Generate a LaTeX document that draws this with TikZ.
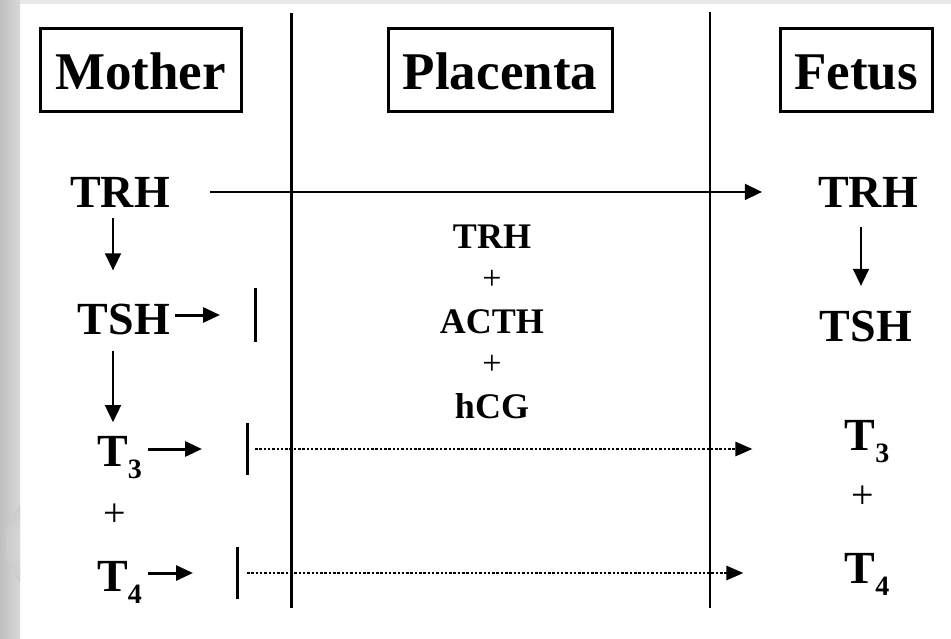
\documentclass[tikz,border=0pt]{standalone}
\usepackage{fontspec}
\setmainfont{Liberation Serif}
\usetikzlibrary{arrows.meta}

\begin{document}
\begin{tikzpicture}[x=1pt,y=-1pt,
	head/.style={draw,line width=3pt,inner sep=0pt,minimum height=83pt,text height=40pt,text depth=0pt,font=\fontsize{53}{53}\selectfont\bfseries},
	hormone/.style={inner sep=0pt,anchor=base,font=\fontsize{46}{46}\selectfont\bfseries},
	small/.style={inner sep=0pt,anchor=base,font=\fontsize{36}{36}\selectfont\bfseries},
	plus/.style={inner sep=0pt,font=\fontsize{40}{40}\selectfont},
	conn/.style={line width=1.6pt,-{Triangle[length=17pt,width=16pt]}},
	push/.style={line width=3pt,-{Triangle[length=17pt,width=15pt]}},
	leak/.style={line width=2.6pt,dash pattern=on 2.5pt off 1.8pt,-{Triangle[length=17pt,width=14pt]}},
	block/.style={line width=3pt},
	divider/.style={line width=3pt}]
	\useasboundingbox (0,0) rectangle (951,638);
	\fill[white] (0,0) rectangle (951,638);
	\shade[left color=gray!50,right color=gray!30] (0,0) rectangle (20,638);
	\fill[gray!18] (20,0) rectangle (951,4);
	\begin{scope}
		\clip (0,0) rectangle (20,638);
		\shade[inner color=white,outer color=gray!40] (67,544) circle (61);
	\end{scope}
	\draw[divider] (291,13) -- (291,608);
	\draw[divider,line width=2.5pt] (710,12) -- (710,608);
	\node[head,minimum width=201pt] (mother) at (140.5,69.5) {Mother};
	\node[head,minimum width=224pt] (placenta) at (500,69.5) {Placenta};
	\node[head,minimum width=152pt] (fetus) at (856,69.5) {Fetus};
	\node[hormone] (mTRH) at (120,207) {TRH};
	\node[hormone] (mTSH) at (124,334) {TSH};
	\node[hormone] (mT3) at (119.5,466) {T\raisebox{-12pt}{\fontsize{28}{28}\selectfont 3}};
	\node[plus] (mPlus) at (115,515) {+};
	\node[hormone] (mT4) at (119.5,591) {T\raisebox{-12pt}{\fontsize{28}{28}\selectfont 4}};
	\node[small] (pTRH) at (492,248) {TRH};
	\node[plus,font=\fontsize{34}{34}\selectfont] (pPlus1) at (492,280) {+};
	\node[small] (pACTH) at (492,333) {ACTH};
	\node[plus,font=\fontsize{34}{34}\selectfont] (pPlus2) at (492,365) {+};
	\node[small] (phCG) at (492,418) {hCG};
	\node[hormone] (fTRH) at (868,207) {TRH};
	\node[hormone] (fTSH) at (866,341) {TSH};
	\node[hormone] (fT3) at (867,450) {T\raisebox{-12pt}{\fontsize{28}{28}\selectfont 3}};
	\node[plus] (fPlus) at (863,497) {+};
	\node[hormone] (fT4) at (867,583) {T\raisebox{-12pt}{\fontsize{28}{28}\selectfont 4}};
	\coordinate (bTSH) at (255,315);
	\coordinate (bT3) at (247,449);
	\coordinate (bT4) at (237,573);
	\draw[block] ([yshift=27pt]bTSH) -- ([yshift=-27pt]bTSH);
	\draw[block] ([yshift=26pt]bT3) -- ([yshift=-26pt]bT3);
	\draw[block] ([yshift=26pt]bT4) -- ([yshift=-26pt]bT4);
	\draw[conn,shorten <=40pt,shorten >=56pt] (mTRH) -- (fTRH);
	\draw[conn] ([xshift=-7pt,yshift=-11pt]mTRH.south) -- ([xshift=-11pt,yshift=33pt]mTSH.north);
	\draw[conn] ([xshift=-11pt,yshift=-16pt]mTSH.south) -- ([xshift=-6.5pt,yshift=13.5pt]mT3.north);
	\draw[conn] ([xshift=-7pt,yshift=-20pt]fTRH.south) -- ([xshift=-5pt,yshift=24.5pt]fTSH.north);
	\draw[push,shorten <=5pt,shorten >=35pt] (mTSH.east |- bTSH) -- (bTSH);
	\draw[push,shorten <=6pt,shorten >=45pt] (mT3.east |- bT3) -- (bT3);
	\draw[push,shorten <=6pt,shorten >=44pt] (mT4.east |- bT4) -- (bT4);
	\draw[leak,shorten <=8pt,shorten >=92pt] (bT3) -- (fT3.west |- bT3);
	\draw[leak,shorten <=10pt,shorten >=101pt] (bT4) -- (fT4.west |- bT4);
\end{tikzpicture}
\end{document}
